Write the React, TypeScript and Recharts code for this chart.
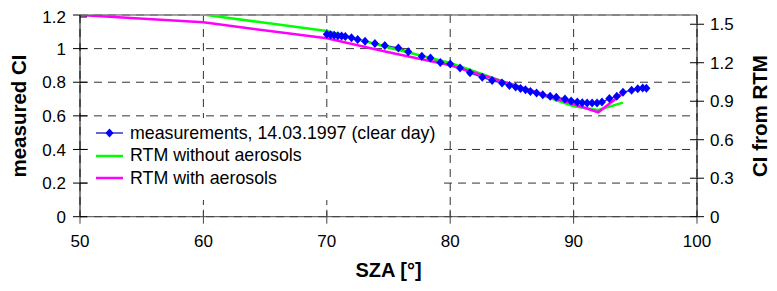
import React from "react";
import {
  LineChart,
  Line,
  XAxis,
  YAxis,
  CartesianGrid,
  Legend,
  ReferenceLine,
  Label,
} from "recharts";

// ---- data ----
const measSza = [
  70.0, 70.3, 70.6, 70.9, 71.2, 71.5, 72.0, 72.5, 73.1, 73.9, 74.7, 75.8, 76.6,
  77.7, 78.4, 79.2, 80.0, 80.8, 81.6, 82.6, 83.4, 84.2, 84.8, 85.3, 85.7, 86.1,
  86.5, 87.0, 87.5, 88.1, 88.6, 89.3, 89.8, 90.3, 90.7, 91.1, 91.5, 91.9, 92.3,
  92.9, 93.5, 94.0, 94.7, 95.2, 95.6, 95.9,
];
const measCI = [
  1.085, 1.082, 1.08, 1.077, 1.075, 1.072, 1.064, 1.054, 1.044, 1.03, 1.018,
  1.004, 0.982, 0.955, 0.944, 0.918, 0.908, 0.885, 0.856, 0.829, 0.81, 0.795,
  0.781, 0.772, 0.762, 0.756, 0.745, 0.736, 0.726, 0.716, 0.71, 0.7, 0.688,
  0.682, 0.678, 0.676, 0.676, 0.677, 0.682, 0.703, 0.716, 0.74, 0.752, 0.761,
  0.766, 0.764,
];
const rtmNoAerSza = [60, 70, 75, 80, 85, 90, 92, 94];
const rtmNoAerCI = [1.575, 1.447, 1.319, 1.198, 1.03, 0.86, 0.832, 0.889];
const rtmAerSza = [50, 60, 70, 75, 80, 85, 90, 92, 94];
const rtmAerCI = [1.572, 1.515, 1.39, 1.281, 1.18, 1.032, 0.876, 0.814, 0.962];

const xTicks = [50, 60, 70, 80, 90, 100];
const leftTicks = [0, 0.2, 0.4, 0.6, 0.8, 1, 1.2];
const rightTicks = [0, 0.3, 0.6, 0.9, 1.2, 1.5];

const seriesNames = [
  "measurements, 14.03.1997 (clear day)",
  "RTM without aerosols",
  "RTM with aerosols",
];
const xTitle = "SZA [°]";
const leftTitle = "measured CI";
const rightTitle = "CI from RTM";

const measData = measSza.map((s, i) => ({ sza: s, ci: measCI[i] }));
const noAerData = rtmNoAerSza.map((s, i) => ({ sza: s, ci: rtmNoAerCI[i] }));
const aerData = rtmAerSza.map((s, i) => ({ sza: s, ci: rtmAerCI[i] }));

const FONT = "'Liberation Sans', Arial, sans-serif";
const MEAS_LINE = "#3333cc";
const MEAS_MARK = "#0000ff";
const GREEN = "#00ff00";
const MAGENTA = "#ff00ff";
const TICK_FS = 17;

// plot-area edges (chart coords) used for the inward half of the cross ticks
const PLOT_LEFT = 72;
const PLOT_RIGHT = 689;
const PLOT_BOTTOM = 208.7;

const Diamond = (props: any) => {
  const { cx, cy, index } = props;
  if (cx == null || cy == null) return <g key={`d${index}`} />;
  return (
    <path
      key={`d${index}`}
      d={`M${cx},${cy - 4.5}L${cx + 4},${cy}L${cx},${cy + 4.5}L${cx - 4},${cy}Z`}
      fill={MEAS_MARK}
      stroke="none"
    />
  );
};

const LeftTick = (props: any) => {
  const { x, y, payload } = props;
  return (
    <g>
      <line x1={PLOT_LEFT} x2={PLOT_LEFT + 7} y1={y} y2={y} stroke="#000" />
      <text x={x} y={y} dy="0.355em" textAnchor="end" fontSize={TICK_FS} fill="#000">
        {payload.value}
      </text>
    </g>
  );
};
const RightTick = (props: any) => {
  const { x, y, payload } = props;
  return (
    <g>
      <line x1={PLOT_RIGHT - 7} x2={PLOT_RIGHT} y1={y} y2={y} stroke="#000" />
      <text x={x} y={y} dy="0.355em" textAnchor="start" fontSize={TICK_FS} fill="#000">
        {payload.value}
      </text>
    </g>
  );
};
const BottomTick = (props: any) => {
  const { x, y, payload } = props;
  return (
    <g>
      <line x1={x} x2={x} y1={PLOT_BOTTOM - 7} y2={PLOT_BOTTOM} stroke="#444" />
      <text x={x} y={y} dy="0.71em" textAnchor="middle" fontSize={TICK_FS} fill="#000">
        {payload.value}
      </text>
    </g>
  );
};

const LegendBox = () => {
  const colors = [MEAS_LINE, GREEN, MAGENTA];
  return (
    <div
      style={{
        width: 355,
        height: 82,
        background: "#ffffff",
        position: "relative",
        fontFamily: FONT,
        fontSize: 17.8,
        color: "#000",
      }}
    >
      {seriesNames.map((name, i) => {
        const cy = 15 + i * 22.5;
        return (
          <div
            key={name}
            style={{
              position: "absolute",
              left: 0,
              top: cy - 11,
              height: 22,
              display: "flex",
              alignItems: "center",
              whiteSpace: "nowrap",
            }}
          >
            <svg width={42} height={22} style={{ display: "block" }}>
              <line
                x1={8}
                x2={35}
                y1={11}
                y2={11}
                stroke={colors[i]}
                strokeWidth={i === 0 ? 1.5 : 2.5}
              />
              {i === 0 && (
                <path d="M21.5,6.5L25.5,11L21.5,15.5L17.5,11Z" fill={MEAS_MARK} />
              )}
            </svg>
            <span>{name}</span>
          </div>
        );
      })}
    </div>
  );
};

export default function App() {
  return (
    <div style={{ width: 769, height: 283, fontFamily: FONT }}>
      <LineChart
        width={769}
        height={283}
        margin={{ top: 7, right: 20, bottom: 34.3, left: 12 }}
        style={{ fontFamily: FONT, overflow: "visible" }}
      >
        <CartesianGrid
          yAxisId="left"
          stroke="#333"
          strokeDasharray="8 6"
          strokeWidth={1}
        />
        <XAxis
          type="number"
          dataKey="sza"
          domain={[50, 100]}
          ticks={xTicks}
          allowDataOverflow
          height={40}
          tickSize={7}
          tickMargin={11}
          stroke="#444"
          tick={BottomTick}
        >
          <Label
            content={() => (
              <text
                x={380.5}
                y={262}
                textAnchor="middle"
                dominantBaseline="central"
                fontWeight="bold"
                fontSize={20}
                fill="#000"
              >
                {xTitle}
              </text>
            )}
          />
        </XAxis>
        <YAxis
          yAxisId="left"
          domain={[0, 1.2]}
          ticks={leftTicks}
          width={60}
          tickSize={7}
          tickMargin={7}
          stroke="#000"
          tick={LeftTick}
        >
          <Label
            content={() => (
              <text
                x={10}
                y={108}
                transform="rotate(-90 10 108)"
                textAnchor="middle"
                dominantBaseline="central"
                fontWeight="bold"
                fontSize={20.5}
                fill="#000"
              >
                {leftTitle}
              </text>
            )}
          />
        </YAxis>
        <YAxis
          yAxisId="right"
          orientation="right"
          domain={[0, 1.572]}
          allowDataOverflow
          ticks={rightTicks}
          width={60}
          tickSize={7}
          tickMargin={6}
          stroke="#000"
          tick={RightTick}
        >
          <Label
            content={() => (
              <text
                x={751}
                y={108}
                transform="rotate(-90 751 108)"
                textAnchor="middle"
                dominantBaseline="central"
                fontWeight="bold"
                fontSize={20.5}
                fill="#000"
              >
                {rightTitle}
              </text>
            )}
          />
        </YAxis>
        <ReferenceLine yAxisId="left" y={1.2} stroke="#808080" strokeWidth={1.5} />
        <Legend
          layout="horizontal"
          verticalAlign="middle"
          align="center"
          content={() => <LegendBox />}
          wrapperStyle={{ left: 80, top: 110, width: 355, height: 82 }}
        />
        <Line
          yAxisId="left"
          data={measData}
          dataKey="ci"
          name={seriesNames[0]}
          stroke={MEAS_LINE}
          strokeWidth={1.5}
          dot={Diamond}
          activeDot={false}
          isAnimationActive={false}
        />
        <Line
          yAxisId="right"
          data={noAerData}
          dataKey="ci"
          name={seriesNames[1]}
          stroke={GREEN}
          strokeWidth={2.5}
          dot={false}
          activeDot={false}
          isAnimationActive={false}
        />
        <Line
          yAxisId="right"
          data={aerData}
          dataKey="ci"
          name={seriesNames[2]}
          stroke={MAGENTA}
          strokeWidth={2.5}
          dot={false}
          activeDot={false}
          isAnimationActive={false}
        />
      </LineChart>
    </div>
  );
}
